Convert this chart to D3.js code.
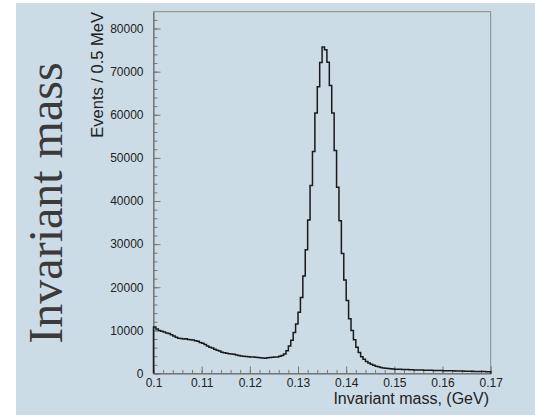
<!DOCTYPE html>
<html>
<head>
<meta charset="utf-8">
<script src="https://cdn.jsdelivr.net/npm/d3@7"></script>
<style>
  body { margin: 0; background: #fff; }
  svg { display: block; }
  .tick text { font-family: "Liberation Sans", Arial, sans-serif; fill: #222; }
</style>
</head>
<body>
<div id="chart"></div>
<script>
// histogram: 0.5 MeV bins from 0.100 to 0.170 GeV
var binLow = 0.1, binWidth = 0.0005;
var counts = [
  10800, 10300, 10000, 9800, 9600, 9400, 9300, 9000, 8700, 8400,
  8200, 8100, 8000, 8050, 7900, 7800, 7750, 7600, 7500, 7200,
  7000, 6700, 6400, 6100, 5900, 5600, 5400, 5200, 4950, 4800,
  4700, 4600, 4500, 4450, 4300, 4150, 4050, 4000, 3950, 3900,
  3850, 3800, 3750, 3700, 3650, 3600, 3550, 3650, 3700, 3750,
  3800, 3850, 4000, 4200, 4550, 5300, 6400, 7700, 9500, 11500,
  14200, 17600, 22600, 28700, 35600, 43600, 51500, 60400, 66500, 72100,
  75700, 75100, 72200, 66800, 60400, 51700, 43200, 35400, 27800, 21700,
  16900, 12700, 9950, 7800, 6100, 4850, 3900, 3300, 2800, 2450,
  2150, 1900, 1700, 1550, 1400, 1300, 1200, 1150, 1100, 1050,
  1000, 980, 960, 940, 920, 900, 880, 860, 840, 820,
  800, 790, 770, 760, 740, 730, 710, 700, 690, 670,
  660, 650, 630, 620, 610, 600, 580, 570, 560, 540,
  530, 520, 500, 490, 480, 470, 450, 440, 430, 420
];
var xTicks = [0.1, 0.11, 0.12, 0.13, 0.14, 0.15, 0.16, 0.17];
var xTickLabels = ["0.1", "0.11", "0.12", "0.13", "0.14", "0.15", "0.16", "0.17"];
var yTicks = [0, 10000, 20000, 30000, 40000, 50000, 60000, 70000, 80000];
var yTickLabels = ["0", "10000", "20000", "30000", "40000", "50000", "60000", "70000", "80000"];
var xTitle = "Invariant mass, (GeV)";
var yTitle = "Events / 0.5 MeV";
var sideTitle = "Invariant mass";

var w = 535, h = 416;
var svg = d3.select("#chart").append("svg")
    .attr("width", w)
    .attr("height", h);

svg.append("rect")
    .attr("x", 16).attr("y", 3)
    .attr("width", w - 16).attr("height", 412)
    .attr("fill", "#cbdce7");

var x = d3.scaleLinear().domain([0.1, 0.17]).range([153.5, 490.7]);
var y = d3.scaleLinear().domain([0, 83900]).range([373.5, 11.7]);

// frame
svg.append("rect")
    .attr("x", x(0.1)).attr("y", y(83900))
    .attr("width", x(0.17) - x(0.1)).attr("height", y(0) - y(83900))
    .attr("fill", "none").attr("stroke", "#8a8a8a").attr("stroke-width", 1);

// minor ticks
var yMinor = d3.range(0, 84000, 2000);
var xMinor = d3.range(0, 36).map(function(i) { return 0.1 + i * 0.002; });

svg.append("g")
    .attr("transform", "translate(" + x(0.1) + ",0)")
    .call(d3.axisLeft(y).tickValues(yMinor).tickSize(-4).tickSizeOuter(0).tickFormat(""))
    .call(function(g) { g.select(".domain").remove(); g.selectAll("line").attr("stroke", "#777"); });

svg.append("g")
    .attr("transform", "translate(0," + y(0) + ")")
    .call(d3.axisBottom(x).tickValues(xMinor).tickSize(-3.5).tickSizeOuter(0).tickFormat(""))
    .call(function(g) { g.select(".domain").remove(); g.selectAll("line").attr("stroke", "#777"); });

// major axes
svg.append("g")
    .attr("transform", "translate(" + x(0.1) + ",0)")
    .call(d3.axisLeft(y).tickValues(yTicks).tickSize(-7).tickSizeOuter(0).tickPadding(10)
        .tickFormat(function(d, i) { return yTickLabels[i]; }))
    .call(function(g) {
        g.select(".domain").attr("stroke", "#666");
        g.selectAll("line").attr("stroke", "#777");
        g.selectAll("text").attr("font-size", 12);
    });

svg.append("g")
    .attr("transform", "translate(0," + y(0) + ")")
    .call(d3.axisBottom(x).tickValues(xTicks).tickSize(-7).tickSizeOuter(0).tickPadding(5)
        .tickFormat(function(d, i) { return xTickLabels[i]; }))
    .call(function(g) {
        g.select(".domain").attr("stroke", "#666");
        g.selectAll("line").attr("stroke", "#777");
        g.selectAll("text").attr("font-size", 12);
    });

// histogram outline
var pts = [[0.1, 0]];
counts.forEach(function(c, i) {
    var lo = binLow + i * binWidth;
    pts.push([lo, c]);
    pts.push([lo + binWidth, c]);
});
pts.push([0.17, 0]);

svg.append("path")
    .datum(pts)
    .attr("d", d3.line().x(function(d) { return x(d[0]); }).y(function(d) { return y(d[1]); }))
    .attr("fill", "none")
    .attr("stroke", "#1a1a1a")
    .attr("stroke-width", 1.5);

// titles
svg.append("text")
    .attr("x", 489).attr("y", 404)
    .attr("text-anchor", "end")
    .attr("font-family", "Liberation Sans, Arial, sans-serif")
    .attr("font-size", 16)
    .attr("fill", "#222")
    .text(xTitle);

svg.append("text")
    .attr("transform", "translate(103,12) rotate(-90)")
    .attr("text-anchor", "end")
    .attr("font-family", "Liberation Sans, Arial, sans-serif")
    .attr("font-size", 16.5)
    .attr("fill", "#222")
    .text(yTitle);

svg.append("text")
    .attr("transform", "translate(62,203) rotate(-90)")
    .attr("text-anchor", "middle")
    .attr("font-family", "Liberation Serif, Times New Roman, serif")
    .attr("font-size", 48)
    .attr("fill", "#3a3a3a")
    .text(sideTitle);
</script>
</body>
</html>
